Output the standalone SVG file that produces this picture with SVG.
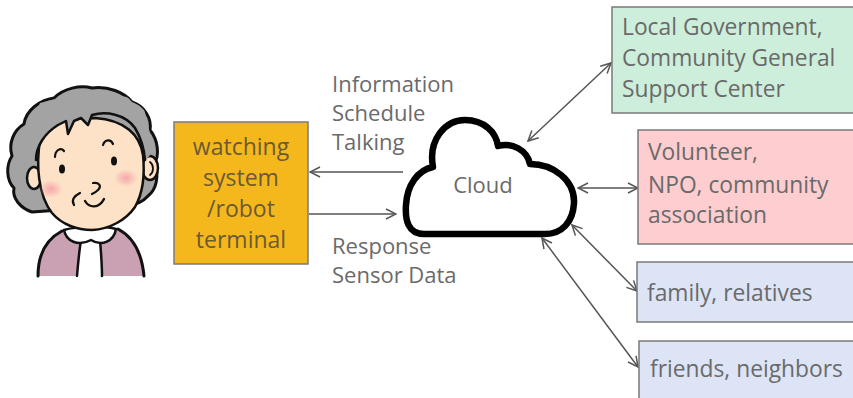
<svg xmlns="http://www.w3.org/2000/svg" width="853" height="398" viewBox="0 0 853 398">
  <style>
    .lbl { font-family: "Open Sans", "Noto Sans", sans-serif; fill: #6a6a6a; font-size: 22px; }
    .org { font-size: 22.8px; }
    .term { font-family: "Open Sans", "Noto Sans", sans-serif; fill: #6b5a33; font-size: 23px; text-anchor: middle; }
    .box { stroke: #7a7a7a; stroke-width: 1.5; }
    .link { stroke: #555; stroke-width: 1.5; fill: none; }
    .ink { stroke: #111; stroke-linecap: round; stroke-linejoin: round; }
  </style>
  <defs>
    <marker id="head" viewBox="0 0 12 12" refX="11" refY="6" markerWidth="12" markerHeight="12" markerUnits="userSpaceOnUse" orient="auto-start-reverse">
      <path d="M1,1 L11,6 L1,11" fill="none" stroke="#555" stroke-width="1.5"/>
    </marker>
    <radialGradient id="blush">
      <stop offset="0" stop-color="#f5a0a8" stop-opacity="0.9"/>
      <stop offset="1" stop-color="#f5a0a8" stop-opacity="0"/>
    </radialGradient>
    <path id="hairShape" d="M32,212 C20,208 12,198 14,188 C6,180 6,165 12,156 C8,143 14,130 24,124 C26,110 40,100 54,98 C64,88 80,85 92,88 C108,86 124,92 132,102 C144,106 152,118 150,130 C158,140 160,155 154,165 C160,175 156,190 148,196 C140,205 130,206 120,204 L60,210 Z"/>
    <clipPath id="hairClip">
      <use href="#hairShape"/>
    </clipPath>
  </defs>

  <rect width="853" height="398" fill="#fff"/>

  <!-- elderly user -->
  <g id="person">
    <!-- back hair -->
    <use href="#hairShape" class="ink" stroke-width="3" fill="#a3a3a3"/>
    <!-- body -->
    <path fill="#c9a1b3" d="M38,276 C38,255 45,240 62,231 L118,229 C135,238 142,255 144,276 Z"/>
    <path class="ink" stroke-width="3" fill="none" d="M38,276 C38,255 45,240 62,231 M118,229 C135,238 142,255 144,276"/>
    <!-- shirt front -->
    <path fill="#fff" d="M81,238 L100,238 L102,276 L77,276 Z"/>
    <path class="ink" stroke-width="2.5" fill="none" d="M81,240 C79,252 78,264 77,276 M100,240 C101,252 102,264 102,276"/>
    <!-- collar -->
    <path class="ink" stroke-width="2.5" fill="#fff" d="M64,230 C66,241 78,247 91,240 C102,247 114,241 116,229 C106,226 76,226 64,230 Z"/>
    <!-- ears -->
    <ellipse class="ink" cx="34" cy="178" rx="7" ry="11" fill="#fde2c8" stroke-width="2.5"/>
    <ellipse class="ink" cx="150" cy="168" rx="8" ry="12" fill="#fde2c8" stroke-width="2.5"/>
    <path class="ink" stroke-width="1.8" fill="none" d="M150,162 C154,165 154,172 150,175"/>
    <!-- face -->
    <path class="ink" stroke-width="2.5" fill="#fde2c8" d="M40,140 C36,165 38,195 52,213 C62,225 78,230 92,230 C110,229 126,220 135,207 C143,193 145,175 143,155 C140,135 125,120 95,118 C65,118 44,125 40,140 Z"/>
    <!-- fringe, kept inside the hair outline -->
    <path clip-path="url(#hairClip)" fill="#a3a3a3" d="M30,165 L35,150 L45,135 L58,125 L66,120 L68,134 L74,121 L80,118 L88,125 L92,115 L105,112 L120,116 L133,126 L141,140 L146,160 L154,150 L142,100 L90,90 L40,103 L24,140 Z"/>
    <path class="ink" stroke-width="2.5" fill="none" d="M36,160 C36,146 45,133 58,125 L66,121 L68,134 L74,121 L81,118 L88,125 L92,115 C106,111 125,114 135,128 C141,138 144,148 145,160"/>
    <!-- cheeks -->
    <ellipse cx="51" cy="189" rx="12" ry="9" fill="url(#blush)"/>
    <ellipse cx="126" cy="178" rx="12" ry="9" fill="url(#blush)"/>
    <!-- eyes and brows -->
    <ellipse cx="62" cy="169" rx="3" ry="4.5" fill="#111"/>
    <ellipse cx="114" cy="161" rx="3" ry="4.5" fill="#111"/>
    <path class="ink" stroke-width="2.2" fill="none" d="M55,157 C55,150 61,147 64,151"/>
    <path class="ink" stroke-width="2.2" fill="none" d="M103,145 C105,139 111,139 113,144"/>
    <!-- nose, wrinkle, mouth -->
    <path class="ink" stroke-width="2.2" fill="none" d="M93,183 C99,182 102,186 98,190 C96,192 94,193 92,194"/>
    <path class="ink" stroke-width="2.2" fill="none" d="M80,193 C74,196 71,200 74,205"/>
    <path class="ink" stroke-width="2.4" fill="none" d="M85,201 C89,208 99,209 104,199"/>
  </g>

  <!-- connectors -->
  <g id="connectors">
    <line class="link" x1="403" y1="172" x2="310" y2="172" marker-end="url(#head)"/>
    <line class="link" x1="309" y1="214" x2="396" y2="214" marker-end="url(#head)"/>
    <line class="link" x1="528" y1="141" x2="611" y2="63" marker-start="url(#head)" marker-end="url(#head)"/>
    <line class="link" x1="578" y1="188" x2="638" y2="188" marker-start="url(#head)" marker-end="url(#head)"/>
    <line class="link" x1="572" y1="225" x2="637" y2="291" marker-start="url(#head)" marker-end="url(#head)"/>
    <line class="link" x1="542" y1="238" x2="638" y2="367" marker-start="url(#head)" marker-end="url(#head)"/>
  </g>

  <!-- flow labels -->
  <g id="labels-out">
    <text class="lbl" x="332" y="92">Information</text>
    <text class="lbl" x="332" y="121">Schedule</text>
    <text class="lbl" x="332" y="150">Talking</text>
  </g>
  <g id="labels-in">
    <text class="lbl" x="332" y="254">Response</text>
    <text class="lbl" x="332" y="283">Sensor Data</text>
  </g>

  <g id="terminal">
    <rect class="box" x="174" y="122" width="134" height="142" fill="#f5b81c"/>
    <text class="term" x="241" y="155">watching</text>
    <text class="term" x="241" y="186">system</text>
    <text class="term" x="241" y="217">/robot</text>
    <text class="term" x="241" y="248">terminal</text>
  </g>

  <g id="cloud">
    <path d="M424,234 C408,234 405,220 406,205 C407,185 418,170 433,167 C428,140 445,120 465,120 C484,120 496,132 498,146 C512,142 527,150 530,164 C553,164 575,180 574,203 C573,222 562,234 545,234 Z" fill="#fff" stroke="#000" stroke-width="6.5" stroke-linejoin="round"/>
    <text class="lbl" x="483" y="193" text-anchor="middle" font-size="23">Cloud</text>
  </g>

  <g id="government">
    <rect class="box" x="612" y="7" width="250" height="106" fill="#cdeedb"/>
    <text class="lbl org" x="622" y="35">Local Government,</text>
    <text class="lbl org" x="622" y="66">Community General</text>
    <text class="lbl org" x="622" y="97">Support Center</text>
  </g>

  <g id="volunteer">
    <rect class="box" x="638" y="130" width="224" height="114" fill="#fdcdcf"/>
    <text class="lbl org" x="648" y="160">Volunteer,</text>
    <text class="lbl org" x="648" y="193">NPO, community</text>
    <text class="lbl org" x="648" y="223">association</text>
  </g>

  <g id="family">
    <rect class="box" x="637" y="262" width="225" height="60" fill="#dce4f5"/>
    <text class="lbl org" x="647" y="301">family, relatives</text>
  </g>

  <g id="friends">
    <rect class="box" x="639" y="341" width="225" height="70" fill="#dce4f5"/>
    <text class="lbl org" x="650" y="377">friends, neighbors</text>
  </g>
</svg>
